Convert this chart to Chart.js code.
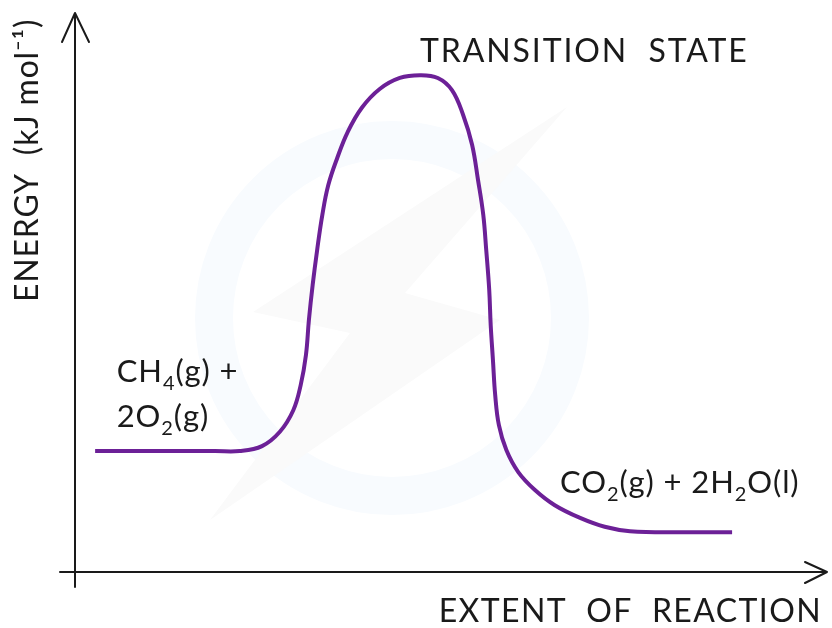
<!DOCTYPE html>
<html>
<head>
<meta charset="utf-8">
<script src="https://cdn.jsdelivr.net/npm/chart.js@4.4.1/dist/chart.umd.min.js"></script>
<style>
  html, body { margin: 0; padding: 0; background: #fff; }
  #wrap { width: 832px; height: 628px; position: relative; }
</style>
</head>
<body>
<div id="wrap"><canvas id="chart"></canvas></div>
<script>
// Energy profile points (extent of reaction 0-100, energy 0-100, arbitrary units)
const extent = [2.7, 12.8, 18.8, 22.1, 25.1, 27.5, 29.3, 30.3, 31.0, 31.4, 31.9, 32.5, 33.2, 34.0, 35.2, 36.6, 38.5, 40.9, 43.6, 46.3, 48.7, 50.6, 52.1, 53.3, 54.1, 54.8, 55.2, 55.6, 55.8, 56.1, 56.4, 56.9, 57.9, 59.5, 61.7, 64.4, 67.8, 71.1, 74.5, 81.2, 88.2];
const energy = [21.9, 21.9, 21.9, 21.9, 22.8, 25.4, 29.3, 33.9, 39.3, 45.7, 52.0, 58.3, 64.7, 70.1, 75.0, 79.7, 84.1, 87.5, 89.5, 90.0, 89.5, 87.3, 82.8, 77.4, 71.0, 64.7, 58.3, 51.1, 44.7, 38.4, 32.1, 26.6, 22.1, 18.1, 14.9, 12.1, 9.8, 8.2, 7.4, 7.2, 7.2];

// Text labels: parts are [text, isSubscript]
const labelText = [
  [['TRANSITION  STATE', false]],
  [['CH', false], ['4', true], ['(g) +', false]],
  [['2O', false], ['2', true], ['(g)', false]],
  [['CO', false], ['2', true], ['(g) + 2H', false], ['2', true], ['O(l)', false]]
];
const labelX = [46.3, 5.6, 5.6, 65.1];
const labelY = [92.4, 34.4, 26.3, 14.3];

const xTitle = 'EXTENT  OF  REACTION';
const yTitle = 'ENERGY  (kJ mol\u207B\u00B9)';

const FONT = 'Lato, "Open Sans", sans-serif';
const INK = '#1a1a1a';

const points = extent.map((x, i) => ({ x, y: energy[i] }));

// faint logo watermark behind the curve
const watermarkPlugin = {
  id: 'watermark',
  beforeDatasetsDraw(chart) {
    const { ctx } = chart;
    ctx.save();
    ctx.strokeStyle = '#f8fbfe';
    ctx.lineWidth = 38;
    ctx.beginPath();
    ctx.arc(392, 318, 178, 0, Math.PI * 2);
    ctx.stroke();
    ctx.fillStyle = '#fafafa';
    ctx.beginPath();
    ctx.moveTo(567, 107);
    ctx.lineTo(253, 312);
    ctx.lineTo(350, 333);
    ctx.lineTo(210, 520);
    ctx.lineTo(500, 320);
    ctx.lineTo(405, 293);
    ctx.closePath();
    ctx.fill();
    ctx.restore();
  }
};

// Axes with arrows and the annotation text
const decorPlugin = {
  id: 'decor',
  afterDraw(chart) {
    const { ctx, chartArea: a, scales } = chart;
    ctx.save();
    ctx.strokeStyle = INK;
    ctx.lineWidth = 2;
    ctx.lineCap = 'round';
    ctx.lineJoin = 'round';

    // y axis
    ctx.beginPath();
    ctx.moveTo(a.left, a.bottom + 15);
    ctx.lineTo(a.left, a.top - 7);
    ctx.moveTo(a.left - 13, a.top + 22);
    ctx.lineTo(a.left, a.top - 7);
    ctx.lineTo(a.left + 14, a.top + 22);
    // x axis
    ctx.moveTo(a.left - 15, a.bottom);
    ctx.lineTo(a.right + 7, a.bottom);
    ctx.moveTo(a.right - 15, a.bottom - 10);
    ctx.lineTo(a.right + 7, a.bottom);
    ctx.lineTo(a.right - 15, a.bottom + 11);
    ctx.stroke();

    ctx.fillStyle = INK;
    ctx.textBaseline = 'alphabetic';

    // axis titles
    ctx.font = '32px ' + FONT;
    ctx.letterSpacing = '1.4px';
    ctx.textAlign = 'right';
    ctx.fillText(xTitle, a.right + 2, a.bottom + 50);
    ctx.letterSpacing = '0.8px';
    ctx.save();
    ctx.translate(a.left - 37, a.top + 282);
    ctx.rotate(-Math.PI / 2);
    ctx.textAlign = 'left';
    ctx.fillText(yTitle, 0, 0);
    ctx.restore();

    // annotations
    ctx.textAlign = 'left';
    labelText.forEach((parts, i) => {
      let px = scales.x.getPixelForValue(labelX[i]);
      const py = scales.y.getPixelForValue(labelY[i]);
      ctx.letterSpacing = i === 0 ? '1.9px' : '0.9px';
      parts.forEach(([t, sub]) => {
        ctx.font = (sub ? '20px ' : (i === 0 ? '32px ' : '31px ')) + FONT;
        ctx.fillText(t, px, py + (sub ? 8 : 0));
        px += ctx.measureText(t).width;
      });
    });
    ctx.restore();
  }
};

new Chart(document.getElementById('chart'), {
  type: 'scatter',
  data: {
    datasets: [{
      data: points,
      showLine: true,
      borderColor: '#6c2097',
      borderWidth: 4,
      pointRadius: 0,
      tension: 0.4,
      fill: false
    }]
  },
  options: {
    responsive: true,
    maintainAspectRatio: false,
    animation: false,
    layout: { padding: { left: 75, right: 12, top: 20, bottom: 56 } },
    scales: {
      x: { type: 'linear', min: 0, max: 100, display: false },
      y: { type: 'linear', min: 0, max: 100, display: false }
    },
    plugins: {
      legend: { display: false },
      tooltip: { enabled: false }
    }
  },
  plugins: [watermarkPlugin, decorPlugin]
});
</script>
</body>
</html>
